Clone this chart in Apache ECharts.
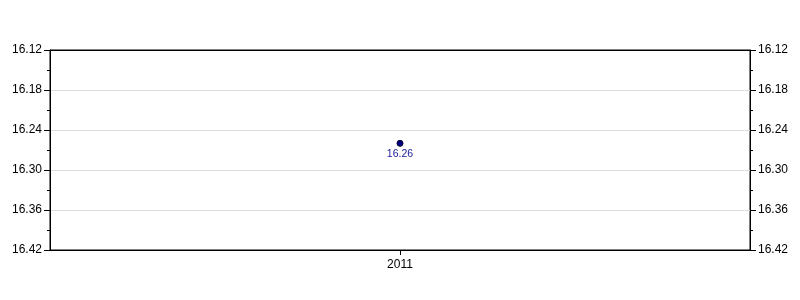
<!DOCTYPE html>
<html>
<head>
<meta charset="utf-8">
<script src="https://cdn.jsdelivr.net/npm/echarts@6/dist/echarts.min.js"></script>
<style>html,body{margin:0;padding:0;background:#fff}#c{width:800px;height:300px}</style>
</head>
<body>
<div id="c"></div>
<script>
const categories = ['2011'];
const values = [16.26];
const yMin = 16.12, yMax = 16.42, yStep = 0.06;

const font = 'Liberation Sans, Arial, sans-serif';
function yAxis(pos, grid) {
  return {
    type: 'value', position: pos, inverse: true,
    min: yMin, max: yMax, interval: yStep,
    axisLine: { show: true, lineStyle: { color: '#000', width: 1 } },
    axisTick: { show: true, length: 6, lineStyle: { color: '#000' } },
    minorTick: { show: true, splitNumber: 2, length: 3, lineStyle: { color: '#000' } },
    axisLabel: { color: '#000', fontSize: 12, fontFamily: font, margin: 8,
      formatter: v => v.toFixed(2) },
    splitLine: { show: grid, showMinLine: false, showMaxLine: false, lineStyle: { color: '#dcdcdc', width: 1 } },
    minorSplitLine: { show: false }
  };
}
const chart = echarts.init(document.getElementById('c'), null, { renderer: 'canvas' });
chart.setOption({
  animation: false,
  grid: { left: 50, right: 50, top: 50, bottom: 50, show: true, borderColor: '#000', borderWidth: 1, backgroundColor: 'transparent' },
  xAxis: [{
    type: 'category', data: categories, boundaryGap: true,
    axisLine: { show: true, lineStyle: { color: '#000' } },
    axisTick: { show: true, alignWithLabel: true, length: 5, lineStyle: { color: '#000' } },
    axisLabel: { color: '#000', fontSize: 12, fontFamily: font, margin: 9 },
    splitLine: { show: false }
  }, {
    type: 'category', data: categories, position: 'top', boundaryGap: true,
    axisLine: { show: true, lineStyle: { color: '#000' } },
    axisTick: { show: false }, axisLabel: { show: false }, splitLine: { show: false }
  }],
  yAxis: [yAxis('left', true), yAxis('right', false)],
  series: [{
    type: 'line', data: values, yAxisIndex: 0, xAxisIndex: 0,
    symbol: 'circle', symbolSize: 6,
    itemStyle: { color: '#000080', borderColor: '#000033', borderWidth: 1 },
    lineStyle: { color: '#000080' },
    label: { show: true, position: 'bottom', distance: 2, color: '#1a1a99', fontSize: 10.5, fontFamily: font,
      formatter: p => p.value.toFixed(2) }
  }]
});
</script>
</body>
</html>
